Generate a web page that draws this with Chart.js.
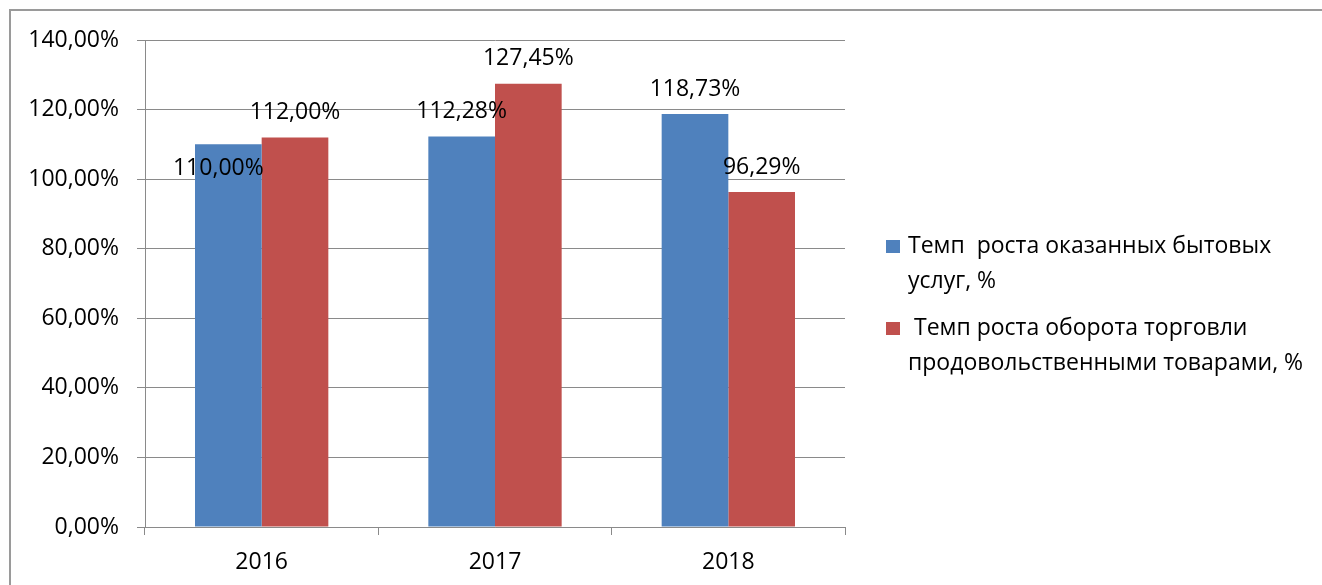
<!DOCTYPE html>
<html>
<head>
<meta charset="utf-8">
<script src="https://cdn.jsdelivr.net/npm/chart.js@4"></script>
<style>
  html, body { margin: 0; padding: 0; background: #fff; }
  #wrap { width: 1322px; height: 585px; position: relative; }
</style>
</head>
<body>
<div id="wrap"><canvas id="myChart"></canvas></div>
<script>
const years = ['2016', '2017', '2018'];
const servicesGrowth = [110.00, 112.28, 118.73];
const tradeGrowth = [112.00, 127.45, 96.29];
const yTicks = [0, 20, 40, 60, 80, 100, 120, 140];
const legendLines = [
    ['Темп  роста оказанных бытовых', 'услуг, %'],
    [' Темп роста оборота торговли', 'продовольственными товарами, %']
];

const FONT = '"Open Sans", "Liberation Sans", sans-serif';
const FONT_SIZE = 23;
const GRID = '#8a8a8a';

// label shifted by hand in the original (dataset-index, bar-index): [dx, dy]
const labelShift = { '0-0': [-10, 49] };

const fmt = v => v.toFixed(2).replace('.', ',') + '%';

const frame = {
    id: 'frame',
    beforeDraw(chart) {
        const c = chart.ctx;
        c.save();
        c.strokeStyle = '#9a9a9a';
        c.lineWidth = 2;
        c.beginPath();
        c.moveTo(10, chart.height + 5);
        c.lineTo(10, 10);
        c.lineTo(chart.width + 5, 10);
        c.stroke();
        c.restore();
    }
};

const barLabels = {
    id: 'barLabels',
    afterDatasetsDraw(chart) {
        const c = chart.ctx;
        c.save();
        c.font = FONT_SIZE + 'px ' + FONT;
        c.fillStyle = '#000';
        c.textAlign = 'center';
        c.textBaseline = 'middle';
        chart.data.datasets.forEach((ds, di) => {
            chart.getDatasetMeta(di).data.forEach((bar, i) => {
                const s = labelShift[di + '-' + i] || [0, 0];
                c.fillText(fmt(ds.data[i]), bar.x + s[0], bar.y - 25 + s[1]);
            });
        });
        c.restore();
    }
};

const sideLegend = {
    id: 'sideLegend',
    afterDraw(chart) {
        const c = chart.ctx;
        c.save();
        c.font = FONT_SIZE + 'px ' + FONT;
        c.textBaseline = 'middle';
        const tops = [246, 328];
        chart.data.datasets.forEach((ds, di) => {
            c.fillStyle = ds.backgroundColor;
            c.fillRect(886, tops[di] - 6, 14, 13);
            c.fillStyle = '#000';
            legendLines[di].forEach((line, li) => {
                c.fillText(line, 908, tops[di] + li * 35);
            });
        });
        c.restore();
    }
};

new Chart(document.getElementById('myChart'), {
    type: 'bar',
    data: {
        labels: years,
        datasets: [{
            label: legendLines[0].join(' '),
            data: servicesGrowth,
            backgroundColor: '#4F81BD'
        }, {
            label: legendLines[1].join(' '),
            data: tradeGrowth,
            backgroundColor: '#C0504D'
        }]
    },
    options: {
        responsive: true,
        maintainAspectRatio: false,
        animation: false,
        layout: { padding: { left: 0, top: 40, right: 477, bottom: 0 } },
        datasets: { bar: { barPercentage: 1, categoryPercentage: 2 / 3.5 } },
        plugins: {
            legend: { display: false },
            tooltip: { enabled: false }
        },
        scales: {
            x: {
                grid: { drawOnChartArea: false, drawTicks: true, tickLength: 8, color: GRID, offset: true },
                border: { color: GRID, width: 1 },
                ticks: { color: '#000', font: { family: FONT, size: FONT_SIZE }, padding: 14 },
                afterFit(scale) { scale.height = 58; }
            },
            y: {
                min: 0,
                max: 140,
                afterBuildTicks(scale) { scale.ticks = yTicks.map(v => ({ value: v })); },
                grid: { color: GRID, tickLength: 8 },
                border: { color: GRID, width: 1 },
                ticks: { color: '#000', font: { family: FONT, size: FONT_SIZE }, padding: 18, callback: v => fmt(v) },
                afterFit(scale) { scale.width = 145; }
            }
        }
    },
    plugins: [frame, barLabels, sideLegend]
});
</script>
</body>
</html>
